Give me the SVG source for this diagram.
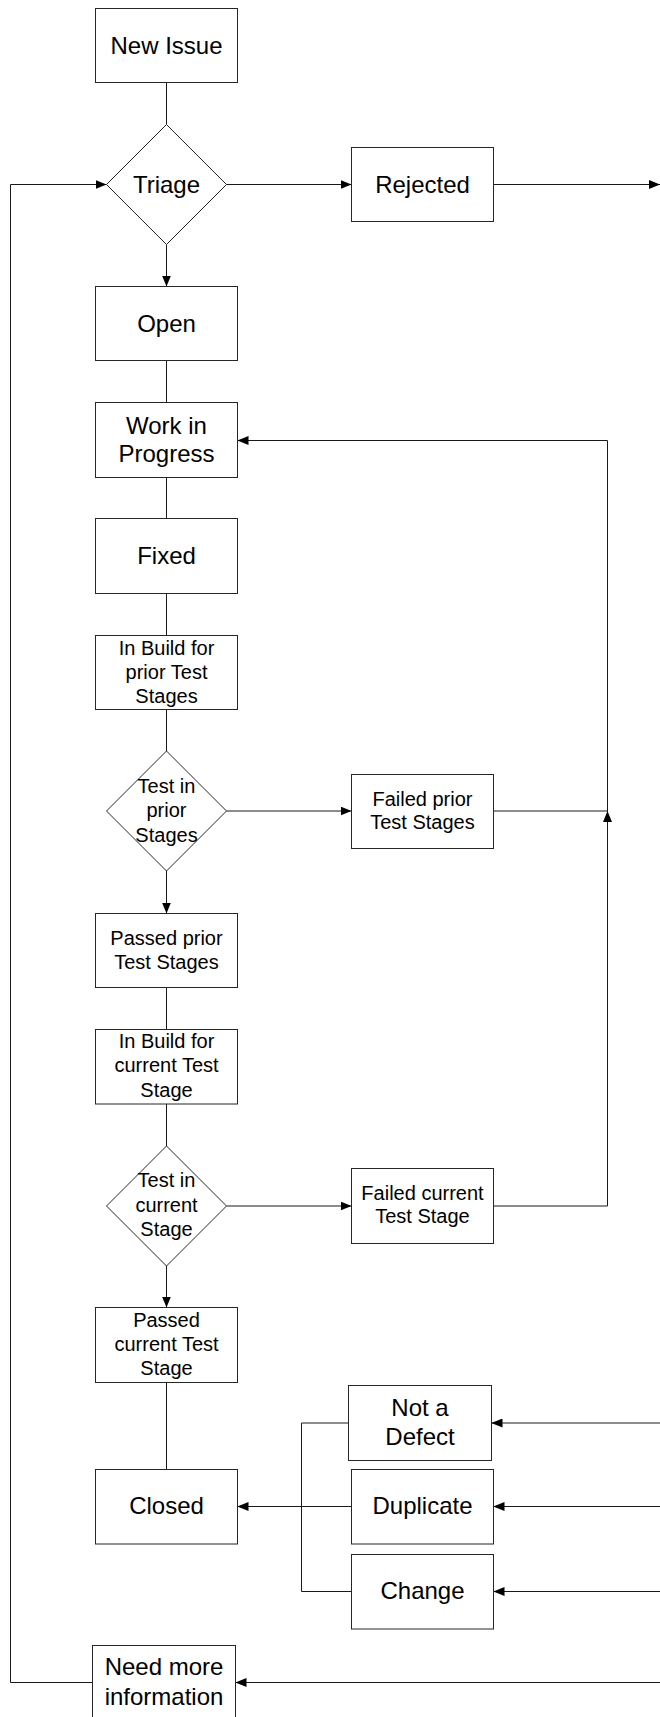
<svg xmlns="http://www.w3.org/2000/svg" width="660" height="1717" viewBox="0 0 660 1717">
  <style>
    .box { fill: #ffffff; stroke: #262626; stroke-width: 1; }
    .conn { fill: none; stroke: #1a1a1a; stroke-width: 1; }
    .lg { font-family: "Liberation Sans", Arial, sans-serif; font-size: 24px; fill: #000; text-anchor: middle; }
    .sm { font-family: "Liberation Sans", Arial, sans-serif; font-size: 20px; fill: #000; text-anchor: middle; }
  </style>
  <defs>
    <marker id="arrow" markerUnits="userSpaceOnUse" markerWidth="11" markerHeight="9" refX="11" refY="4.5" orient="auto">
      <path d="M0,0 L11,4.5 L0,9 z" fill="#000"/>
    </marker>
  </defs>
  <rect width="660" height="1717" fill="#ffffff"/>

  <!-- connectors -->
  <g id="connectors">
    <line class="conn" x1="166.5" y1="82.5" x2="166.5" y2="124.5"/>
    <line class="conn" x1="166.5" y1="244.5" x2="166.5" y2="286.5" marker-end="url(#arrow)"/>
    <line class="conn" x1="226.5" y1="184.5" x2="351.5" y2="184.5" marker-end="url(#arrow)"/>
    <line class="conn" x1="493.5" y1="184.5" x2="660" y2="184.5" marker-end="url(#arrow)"/>
    <line class="conn" x1="166.5" y1="360.5" x2="166.5" y2="402.5"/>
    <line class="conn" x1="166.5" y1="477.5" x2="166.5" y2="518.5"/>
    <line class="conn" x1="166.5" y1="593.5" x2="166.5" y2="635.5"/>
    <line class="conn" x1="166.5" y1="709.5" x2="166.5" y2="751"/>
    <line class="conn" x1="166.5" y1="871" x2="166.5" y2="913.5" marker-end="url(#arrow)"/>
    <line class="conn" x1="226.5" y1="811" x2="351.5" y2="811" marker-end="url(#arrow)"/>
    <path class="conn" d="M493.5,811 H607.5 V440.5 H237.5" marker-end="url(#arrow)"/>
    <path class="conn" d="M493.5,1206 H607.5 V811" marker-end="url(#arrow)"/>
    <line class="conn" x1="166.5" y1="987.5" x2="166.5" y2="1029.5"/>
    <line class="conn" x1="166.5" y1="1104" x2="166.5" y2="1146"/>
    <line class="conn" x1="166.5" y1="1266" x2="166.5" y2="1307.5" marker-end="url(#arrow)"/>
    <line class="conn" x1="226.5" y1="1206" x2="351.5" y2="1206" marker-end="url(#arrow)"/>
    <line class="conn" x1="166.5" y1="1382.5" x2="166.5" y2="1469.5"/>
    <path class="conn" d="M348.5,1423 H301.5 V1591.5 H351.5"/>
    <line class="conn" x1="351.5" y1="1506.5" x2="237.5" y2="1506.5" marker-end="url(#arrow)"/>
    <line class="conn" x1="660" y1="1423" x2="491.5" y2="1423" marker-end="url(#arrow)"/>
    <line class="conn" x1="660" y1="1506.5" x2="493.5" y2="1506.5" marker-end="url(#arrow)"/>
    <line class="conn" x1="660" y1="1591.5" x2="493.5" y2="1591.5" marker-end="url(#arrow)"/>
    <line class="conn" x1="660" y1="1682.5" x2="235.5" y2="1682.5" marker-end="url(#arrow)"/>
    <path class="conn" d="M92.5,1682.5 H10.5 V184.5 H106.5" marker-end="url(#arrow)"/>
  </g>

  <!-- main column -->
  <g id="new-issue">
    <rect class="box" x="95.5" y="8.5" width="142" height="74"/>
    <text class="lg" x="166.5" y="53.5">New Issue</text>
  </g>
  <g id="triage">
    <polygon class="box" points="166.5,124.5 226.5,184.5 166.5,244.5 106.5,184.5"/>
    <text class="lg" x="166.5" y="193">Triage</text>
  </g>
  <g id="open">
    <rect class="box" x="95.5" y="286.5" width="142" height="74"/>
    <text class="lg" x="166.5" y="332.2">Open</text>
  </g>
  <g id="work-in-progress">
    <rect class="box" x="95.5" y="402.5" width="142" height="75"/>
    <text class="lg" x="166.5" y="433.5">Work in</text>
    <text class="lg" x="166.5" y="462">Progress</text>
  </g>
  <g id="fixed">
    <rect class="box" x="95.5" y="518.5" width="142" height="75"/>
    <text class="lg" x="166.5" y="564.2">Fixed</text>
  </g>
  <g id="in-build-prior">
    <rect class="box" x="95.5" y="635.5" width="142" height="74"/>
    <text class="sm" x="166.5" y="655">In Build for</text>
    <text class="sm" x="166.5" y="679">prior Test</text>
    <text class="sm" x="166.5" y="702.7">Stages</text>
  </g>
  <g id="test-prior">
    <polygon class="box" points="166.5,751 226.5,811 166.5,871 106.5,811"/>
    <text class="sm" x="166.5" y="793.3">Test in</text>
    <text class="sm" x="166.5" y="817.3">prior</text>
    <text class="sm" x="166.5" y="841.7">Stages</text>
  </g>
  <g id="passed-prior">
    <rect class="box" x="95.5" y="913.5" width="142" height="74"/>
    <text class="sm" x="166.5" y="945">Passed prior</text>
    <text class="sm" x="166.5" y="969">Test Stages</text>
  </g>
  <g id="in-build-current">
    <rect class="box" x="95.5" y="1029.5" width="142" height="74.5"/>
    <text class="sm" x="166.5" y="1048.3">In Build for</text>
    <text class="sm" x="166.5" y="1072.3">current Test</text>
    <text class="sm" x="166.5" y="1096.5">Stage</text>
  </g>
  <g id="test-current">
    <polygon class="box" points="166.5,1146 226.5,1206 166.5,1266 106.5,1206"/>
    <text class="sm" x="166.5" y="1187.3">Test in</text>
    <text class="sm" x="166.5" y="1211.7">current</text>
    <text class="sm" x="166.5" y="1235.7">Stage</text>
  </g>
  <g id="passed-current">
    <rect class="box" x="95.5" y="1307.5" width="142" height="75"/>
    <text class="sm" x="166.5" y="1326.7">Passed</text>
    <text class="sm" x="166.5" y="1350.7">current Test</text>
    <text class="sm" x="166.5" y="1374.7">Stage</text>
  </g>
  <g id="closed">
    <rect class="box" x="95.5" y="1469.5" width="142" height="74.5"/>
    <text class="lg" x="166.5" y="1513.5">Closed</text>
  </g>
  <g id="need-more-information">
    <rect class="box" x="92.5" y="1645.5" width="143" height="75"/>
    <text class="lg" x="164" y="1675.2">Need more</text>
    <text class="lg" x="164" y="1704.5">information</text>
  </g>

  <!-- right column -->
  <g id="rejected">
    <rect class="box" x="351.5" y="147.5" width="142" height="74"/>
    <text class="lg" x="422.5" y="193">Rejected</text>
  </g>
  <g id="failed-prior">
    <rect class="box" x="351.5" y="774.5" width="142" height="74"/>
    <text class="sm" x="422.5" y="806">Failed prior</text>
    <text class="sm" x="422.5" y="829.3">Test Stages</text>
  </g>
  <g id="failed-current">
    <rect class="box" x="351.5" y="1168.5" width="142" height="75"/>
    <text class="sm" x="422.5" y="1200">Failed current</text>
    <text class="sm" x="422.5" y="1223.3">Test Stage</text>
  </g>
  <g id="not-a-defect">
    <rect class="box" x="348.5" y="1385.5" width="143" height="75"/>
    <text class="lg" x="420" y="1415.9">Not a</text>
    <text class="lg" x="420" y="1445.2">Defect</text>
  </g>
  <g id="duplicate">
    <rect class="box" x="351.5" y="1469.5" width="142" height="74.5"/>
    <text class="lg" x="422.5" y="1513.5">Duplicate</text>
  </g>
  <g id="change">
    <rect class="box" x="351.5" y="1554.5" width="142" height="74.5"/>
    <text class="lg" x="422.5" y="1598.5">Change</text>
  </g>
</svg>
